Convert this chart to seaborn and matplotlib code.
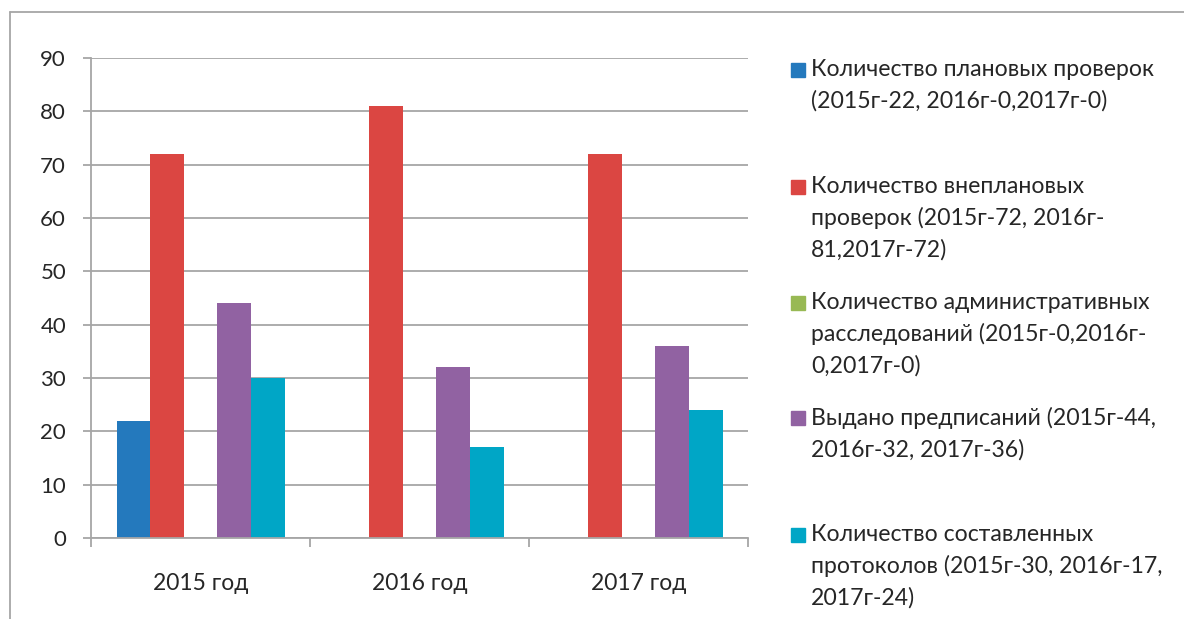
import pandas as pd
import matplotlib
matplotlib.use("Agg")
import matplotlib.pyplot as plt
from matplotlib.lines import Line2D
from matplotlib.patches import Rectangle
import seaborn as sns

# --- data ---
years = ["2015 год", "2016 год", "2017 год"]
series = [
    "Количество плановых проверок\n(2015г-22, 2016г-0,2017г-0)",
    "Количество внеплановых\nпроверок (2015г-72, 2016г-\n81,2017г-72)",
    "Количество административных\nрасследований (2015г-0,2016г-\n0,2017г-0)",
    "Выдано предписаний (2015г-44,\n2016г-32, 2017г-36)",
    "Количество составленных\nпротоколов (2015г-30, 2016г-17,\n2017г-24)",
]
planned = [22, 0, 0]
unplanned = [72, 81, 72]
admin = [0, 0, 0]
orders = [44, 32, 36]
protocols = [30, 17, 24]
colors = ["#2479BD", "#DB4642", "#98B954", "#9162A2", "#00A6C6"]

rows = []
for name, vals in zip(series, [planned, unplanned, admin, orders, protocols]):
    for y, v in zip(years, vals):
        rows.append({"year": y, "series": name, "value": v})
df = pd.DataFrame(rows)

sns.set_style("white")
plt.rcParams['font.family'] = ['Lato', 'DejaVu Sans']

fig = plt.figure(figsize=(11.84, 6.19), dpi=100)
ax = fig.add_axes([0.0769, 0.1309, 0.5549, 0.7754])

sns.barplot(data=df, x="year", y="value", hue="series", hue_order=series,
            palette=colors, width=0.767, gap=0, saturation=1,
            legend=False, ax=ax, linewidth=0)

grid_c = "#A6A6A6"
ax.set_ylim(0, 90)
ax.set_xlim(-0.5, 2.5)
ax.set_yticks(range(0, 91, 10))
ax.yaxis.grid(True, color=grid_c, linewidth=1.3)
ax.set_axisbelow(True)
ax.set_xlabel("")
ax.set_ylabel("")
for s in ["top", "right"]:
    ax.spines[s].set_visible(False)
for s in ["left", "bottom"]:
    ax.spines[s].set_color(grid_c)
    ax.spines[s].set_linewidth(1.3)

ax.tick_params(axis="y", length=6, width=1.3, color=grid_c, pad=12,
               labelsize=16, left=True)
ax.tick_params(axis="x", which="major", length=0, pad=25, labelsize=16.5)
ax.set_xticks([-0.5, 0.5, 1.5, 2.5], minor=True)
ax.tick_params(axis="x", which="minor", length=6.5, width=1.3, color=grid_c,
               bottom=True)

# --- legend drawn on the figure ---
W, H = 1184, 619
slot_tops = [70, 187, 303, 418, 535]
for name, c, ty in zip(series, colors, slot_tops):
    fig.patches.append(Rectangle((791 / W, 1 - (ty + 7) / H), 14 / W, 14 / H,
                                 transform=fig.transFigure, color=c))
    fig.text(811 / W, 1 - (ty - 11) / H, name, fontsize=16.6, va="top",
             ha="left", linespacing=1.56)

# outer frame (left and top edges)
fig.add_artist(Line2D([10 / W, 10 / W], [0, 1 - 12 / H], color=grid_c,
                      linewidth=1.3, transform=fig.transFigure))
fig.add_artist(Line2D([10 / W, 1], [1 - 12 / H, 1 - 12 / H], color=grid_c,
                      linewidth=1.3, transform=fig.transFigure))

fig.savefig("out.png", dpi=100)
